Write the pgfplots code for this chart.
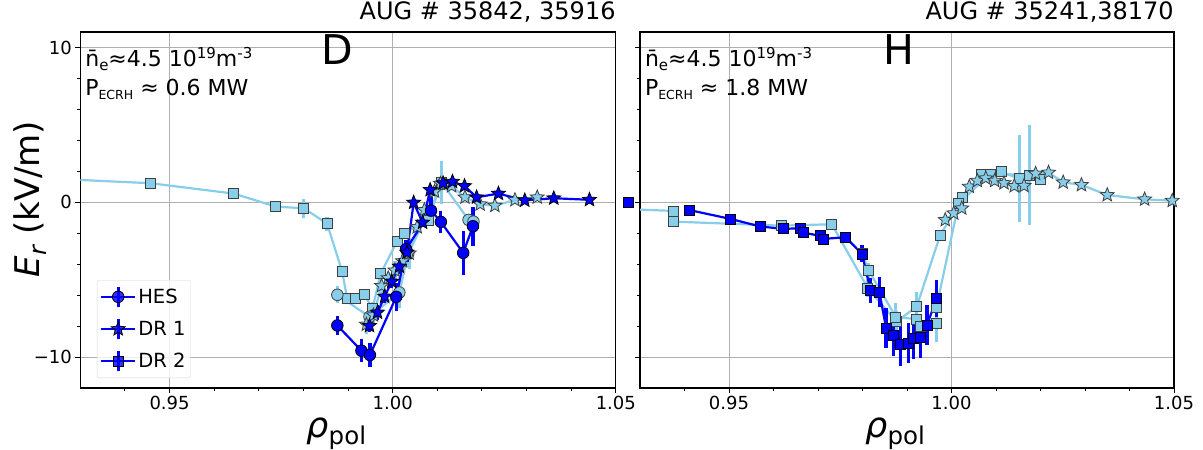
\documentclass[border=0pt]{standalone}
\usepackage{fontspec}
\setmainfont{DejaVu Sans}
\usepackage{pgfplots}
\pgfplotsset{compat=1.18}
\definecolor{sky}{RGB}{135,206,235}
\definecolor{gridc}{RGB}{176,176,176}
\definecolor{legframe}{RGB}{215,215,215}
\pgfdeclareplotmark{fstar}{%
  \pgfpathmoveto{\pgfpointpolar{90}{\pgfplotmarksize}}%
  \pgfpathlineto{\pgfpointpolar{126}{0.44\pgfplotmarksize}}%
  \pgfpathlineto{\pgfpointpolar{162}{\pgfplotmarksize}}%
  \pgfpathlineto{\pgfpointpolar{198}{0.44\pgfplotmarksize}}%
  \pgfpathlineto{\pgfpointpolar{234}{\pgfplotmarksize}}%
  \pgfpathlineto{\pgfpointpolar{270}{0.44\pgfplotmarksize}}%
  \pgfpathlineto{\pgfpointpolar{306}{\pgfplotmarksize}}%
  \pgfpathlineto{\pgfpointpolar{342}{0.44\pgfplotmarksize}}%
  \pgfpathlineto{\pgfpointpolar{18}{\pgfplotmarksize}}%
  \pgfpathlineto{\pgfpointpolar{54}{0.44\pgfplotmarksize}}%
  \pgfpathclose
  \pgfusepathqfillstroke
}
\tikzset{
  dk/.style={blue, line width=2.2pt, mark options={solid, draw=black, fill=blue, line width=0.8pt}},
  lt/.style={sky, line width=2.2pt, mark options={solid, draw=black!75, fill=sky, line width=0.8pt}},
  mc/.style={mark=*, mark size=5.8pt},
  ms/.style={mark=square*, mark size=5pt},
  mst/.style={mark=fstar, mark size=7.3pt},
}
\pgfplotsset{
  eb/.style={/pgfplots/error bars/.cd, y dir=both, y explicit, error mark=none, error bar style={line width=3.2pt, #1}, /pgfplots/.cd},
  common/.style={
    scale only axis, height=356pt,
    xmin=0.93, xmax=1.05, ymin=-12, ymax=11,
    xtick={0.95,1.00,1.05}, xticklabels={0.95,1.00,1.05},
    minor xtick={0.94,0.96,0.97,0.98,0.99,1.01,1.02,1.03,1.04},
    ytick={-10,0,10},
    minor ytick={-8,-6,-4,-2,2,4,6,8},
    tick align=outside, tick pos=left,
    major tick length=5pt, minor tick length=3pt,
    every tick/.style={black, line width=1pt},
    axis line style={black, line width=1.1pt},
    grid=major, major grid style={gridc, line width=0.9pt},
    every tick label/.append style={font=\fontsize{18}{20}\selectfont},
    xlabel={\fontsize{35}{38}\selectfont\itshape ρ\raisebox{-7pt}{\upshape\fontsize{24.5}{26}\selectfont pol}},
    xlabel style={at={(axis description cs:0.478,-0.140)}, anchor=base, inner sep=0pt},
    title style={at={(axis description cs:1,1)}, anchor=base east, yshift=6pt, inner sep=0pt, font=\fontsize{24}{26}\selectfont},
  },
}
\newcommand{\annot}[1]{%
  \node[anchor=base west, inner sep=0pt, font=\fontsize{22}{24}\selectfont] at (rel axis cs:0.009,0.9025)
    {n^^^^0304\raisebox{-4pt}{\fontsize{15}{16}\selectfont e}≈4.5 10\raisebox{8.5pt}{\fontsize{15}{16}\selectfont 19}m\raisebox{8.5pt}{\fontsize{15}{16}\selectfont -3}};
  \node[anchor=base west, inner sep=0pt, font=\fontsize{22}{24}\selectfont] at (rel axis cs:0.009,0.821)
    {P\raisebox{-4pt}{\fontsize{12.5}{14}\selectfont ECRH} ≈ #1 MW};
}
\begin{document}
\begin{tikzpicture}
\useasboundingbox (0,0) rectangle (1203pt,450pt);
% ---------------- LEFT: D ----------------
\begin{axis}[common, width=535.5pt, at={(80.3pt,62pt)}, anchor=south west, clip=false,
  yticklabels={−10,0,10},
  ylabel={\fontsize{34}{36}\selectfont\itshape E\raisebox{-7pt}{\fontsize{24}{25}\selectfont r}\upshape\ (kV/m)},
  ylabel style={at={(axis description cs:-0.0753,0.531)}, anchor=base, inner sep=0pt},
  title={AUG \# 35842, 35916},
  legend style={at={(rel axis cs:0.031,0.028)}, anchor=south west, draw=legframe, rounded corners=2pt,
    fill=white, fill opacity=0.8, text opacity=1, font=\fontsize{19.5}{21}\selectfont, row sep=9pt,
    inner xsep=3pt, inner ysep=5pt},
  legend cell align=left,
  legend image code/.code={%
    \draw[#1, mark=none] (0pt,0pt) -- (34pt,0pt);
    \draw[blue, line width=3.2pt] (17pt,-10pt) -- (17pt,10pt);
    \draw[#1] plot coordinates {(17pt,0pt)};
  },
]
% light DR2 (squares)
\addplot[lt, mark=none, forget plot] coordinates {(0.93,1.44) (0.9457,1.23)};
\addplot[lt, ms, forget plot, eb=sky] coordinates {
 (0.9457,1.23) +- (0,0.15) (0.9644,0.56) +- (0,0.15) (0.9738,-0.28) +- (0,0.15)
 (0.9801,-0.39) +- (0,0.6) (0.9853,-1.38) +- (0,0.45) (0.9887,-4.49) +- (0,0.2)
 (0.9898,-6.22) +- (0,0.3) (0.9916,-6.22) +- (0,0.2) (0.9936,-5.96) +- (0,0.2)
 (0.9955,-6.84) +- (0,0.4) (0.9973,-4.62) +- (0,0.4) (1.0010,-2.52) +- (0,0.3)
 (1.0026,-2.00) +- (0,0.3) (1.0079,-1.14) +- (0,0.4) (1.0110,1.27) +- (0,1.4)
};
% light HES (circles)
\addplot[lt, mc, forget plot, eb=sky] coordinates {
 (0.9876,-5.98) +- (0,0.55) (0.9948,-7.40) +- (0,0.4) (1.0015,-5.83) +- (0,1.0)
 (1.0035,-3.30) +- (0,0.9) (1.0112,1.20) +- (0,0.3) (1.0170,-1.14) +- (0,0.3)
 (1.0181,-1.25) +- (0,0.3)
};
% light DR1 (stars)
\addplot[lt, mst, forget plot, eb=sky] coordinates {
 (0.9941,-7.90) +- (0,0.6) (0.9957,-7.30) +- (0,0.6) (0.9975,-5.40) +- (0,0.5)
 (0.9990,-4.90) +- (0,0.4) (1.0005,-4.40) +- (0,0.6) (1.0022,-3.80) +- (0,0.7)
 (1.0037,-3.30) +- (0,1.0) (1.0055,-1.60) +- (0,0.4) (1.0071,-0.50) +- (0,0.3)
 (1.0094,0.70) +- (0,0.3) (1.0107,1.20) +- (0,0.3) (1.0132,1.05) +- (0,0.2)
 (1.0162,0.32) +- (0,0.2) (1.0196,-0.13) +- (0,0.2) (1.0229,-0.22) +- (0,0.2)
 (1.0274,0.15) +- (0,0.15) (1.0324,0.32) +- (0,0.15)
};
% dark HES (circles)
\addplot[dk, mc, forget plot, eb=blue] coordinates {
 (0.9876,-7.96) +- (0,0.6) (0.9930,-9.59) +- (0,0.75) (0.9949,-9.87) +- (0,0.8)
 (1.0008,-6.11) +- (0,0.9) (1.0030,-3.03) +- (0,0.6) (1.0086,-0.54) +- (0,0.85)
 (1.0108,-1.27) +- (0,0.7) (1.0158,-3.27) +- (0,1.4) (1.0180,-1.55) +- (0,1.25)
};
% dark DR1 (stars)
\addplot[dk, mst, forget plot, eb=blue] coordinates {
 (0.9948,-7.98) +- (0,0.4) (0.9966,-7.12) +- (0,0.5) (0.9982,-6.09) +- (0,0.4)
 (0.9998,-5.12) +- (0,0.4) (1.0015,-4.15) +- (0,0.5) (1.0032,-3.25) +- (0,0.6)
 (1.0047,-0.02) +- (0,0.3) (1.0067,-1.31) +- (0,0.3) (1.0084,0.80) +- (0,0.3)
 (1.0113,1.23) +- (0,0.2) (1.0134,1.33) +- (0,0.2) (1.0161,1.05) +- (0,0.2)
 (1.0188,0.32) +- (0,0.15) (1.0237,0.56) +- (0,0.15) (1.0296,0.12) +- (0,0.1)
 (1.0361,0.26) +- (0,0.1) (1.0441,0.16) +- (0,0.1)
};
% dark DR2 (square)
\addplot[dk, ms, forget plot] coordinates {(1.0529,0.0)};
\addlegendimage{dk, mc}\addlegendentry{HES}
\addlegendimage{dk, mst}\addlegendentry{DR 1}
\addlegendimage{dk, ms}\addlegendentry{DR 2}
\node[anchor=base, inner sep=0pt, font=\fontsize{41}{44}\selectfont] at (rel axis cs:0.48,0.91) {D};
\annot{0.6}
\end{axis}
% ---------------- RIGHT: H ----------------
\begin{axis}[common, width=534pt, at={(640pt,62pt)}, anchor=south west,
  yticklabels={},
  title={AUG \# 35241,38170},
]
% light A
\addplot[lt, mark=none] coordinates {(0.925,-0.42) (0.9374,-0.56)};
\addplot[lt, ms, eb=sky] coordinates {(0.9374,-0.56) +- (0,0.1)};
% light B
\addplot[lt, ms, eb=sky] coordinates {
 (0.9374,-1.25) +- (0,0.1) (0.9617,-1.51) +- (0,0.1) (0.9731,-1.42) +- (0,0.1)
 (0.9812,-5.55) +- (0,0.6) (0.9876,-7.72) +- (0,0.7) (0.9922,-6.73) +- (0,0.9)
 (0.9974,-2.17) +- (0,0.2) (1.0025,0.32) +- (0,0.2) (1.0067,1.83) +- (0,0.2)
 (1.0111,1.97) +- (0,0.2) (1.0152,1.53) +- (0,2.8) (1.0200,1.50) +- (0,0.2)
};
% light C
\addplot[lt, ms, eb=sky] coordinates {
 (0.9799,-3.30) +- (0,0.3) (0.9814,-4.41) +- (0,0.5) (0.9875,-7.42) +- (0,0.9)
 (0.9922,-7.55) +- (0,0.6) (0.9931,-8.02) +- (0,0.6) (0.9966,-7.85) +- (0,1.2)
 (0.9966,-6.80) +- (0,0.9) (1.0016,-0.07) +- (0,0.2) (1.0087,1.83) +- (0,0.2)
 (1.0176,1.76) +- (0,3.2)
};
% light stars
\addplot[lt, mst, eb=sky] coordinates {
 (0.9986,-1.14) +- (0,0.1) (1.0005,-0.71) +- (0,0.1) (1.0023,-0.39) +- (0,0.1)
 (1.0040,1.01) +- (0,0.1) (1.0058,1.39) +- (0,0.1) (1.0077,1.55) +- (0,0.1)
 (1.0097,1.39) +- (0,0.1) (1.0118,1.24) +- (0,0.1) (1.0141,1.05) +- (0,0.1)
 (1.0163,1.06) +- (0,0.1) (1.0189,1.85) +- (0,0.1) (1.0218,1.92) +- (0,0.1)
 (1.0251,1.29) +- (0,0.1) (1.0292,1.12) +- (0,0.1) (1.0350,0.47) +- (0,0.1)
 (1.0434,0.19) +- (0,0.1) (1.0496,0.10) +- (0,0.1)
};
% dark DR2
\addplot[dk, ms, eb=blue] coordinates {
 (0.9410,-0.50) +- (0,0.1) (0.9504,-1.08) +- (0,0.1) (0.9571,-1.57) +- (0,0.1)
 (0.9623,-1.72) +- (0,0.1) (0.9660,-1.68) +- (0,0.1) (0.9667,-1.96) +- (0,0.1)
 (0.9705,-2.17) +- (0,0.2) (0.9711,-2.37) +- (0,0.2) (0.9762,-2.26) +- (0,0.2)
 (0.9799,-3.34) +- (0,0.55) (0.9818,-5.70) +- (0,0.8) (0.9838,-5.81) +- (0,0.95)
 (0.9853,-8.13) +- (0,1.3) (0.9869,-8.63) +- (0,1.3) (0.9885,-9.21) +- (0,1.4)
 (0.9903,-9.10) +- (0,1.3) (0.9915,-8.82) +- (0,1.3) (0.9930,-8.75) +- (0,1.3)
 (0.9945,-7.94) +- (0,1.3) (0.9966,-6.24) +- (0,1.2)
};
\node[anchor=base, inner sep=0pt, font=\fontsize{41}{44}\selectfont] at (rel axis cs:0.484,0.91) {H};
\annot{1.8}
\end{axis}
\end{tikzpicture}
\end{document}
